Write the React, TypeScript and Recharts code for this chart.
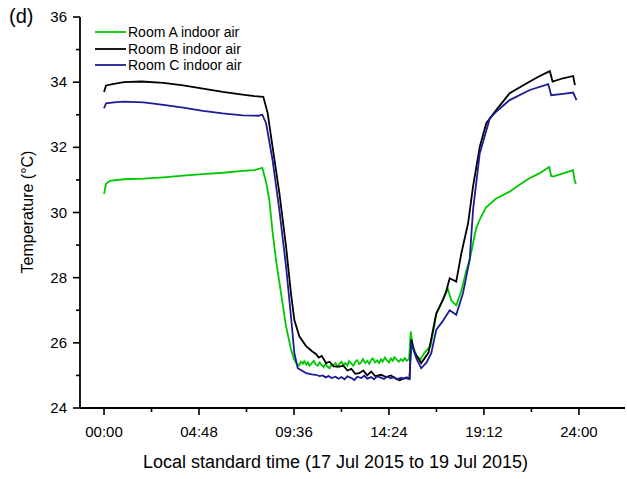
import React from 'react';
import { LineChart, Line, XAxis, YAxis, Legend } from 'recharts';

// Indoor air temperature logged in three rooms (hours since 00:00, °C)
const timesA = [
  0, 0.1, 0.3, 1, 2, 3, 4, 5, 6, 7, 7.6, 8.0, 8.2, 8.35, 8.52, 8.69, 8.95, 9.2, 9.45, 9.6, 9.75,
  9.85, 9.95, 10.05, 10.12, 10.22, 10.3, 10.38, 10.5, 10.6, 10.68, 10.8, 10.9, 10.98, 11.1, 11.2,
  11.28, 11.4, 11.5, 11.58, 11.7, 11.8, 11.88, 12.0, 12.1, 12.2, 12.3, 12.38, 12.5, 12.6, 12.7,
  12.78, 12.9, 13.0, 13.08, 13.2, 13.3, 13.4, 13.5, 13.58, 13.7, 13.8, 13.9, 14.0, 14.08, 14.2,
  14.3, 14.4, 14.5, 14.6, 14.68, 14.8, 14.9, 15.0, 15.1, 15.2, 15.3, 15.42, 15.5, 15.6, 15.8,
  16.0, 16.2, 16.5, 16.8, 17.1, 17.38, 17.55, 17.8, 18.06, 18.3, 18.5, 18.8, 19.0, 19.3, 19.8,
  20.5, 21.0, 21.5, 22.0, 22.5, 22.6, 22.7, 23.2, 23.7, 23.78, 23.85,
];
const roomA = [
  30.57, 30.88, 30.97, 31.02, 31.04, 31.08, 31.13, 31.18, 31.22, 31.28, 31.3, 31.37, 30.9, 30.4,
  29.4, 28.55, 27.5, 26.5, 25.8, 25.5, 25.35,
  25.3, 25.42, 25.36, 25.44, 25.33, 25.4, 25.3, 25.38, 25.45, 25.35, 25.3, 25.4, 25.33, 25.25,
  25.36, 25.28, 25.22, 25.34, 25.3, 25.38, 25.26, 25.34, 25.42, 25.32, 25.38, 25.3, 25.44, 25.36,
  25.3, 25.42, 25.47, 25.35, 25.4, 25.5, 25.38, 25.45, 25.36, 25.48, 25.52, 25.4, 25.46, 25.38,
  25.5, 25.42, 25.55, 25.46, 25.4, 25.52, 25.45, 25.56, 25.48, 25.42, 25.5, 25.44, 25.53, 25.45,
  25.5, 26.35, 25.9, 25.6, 25.5, 25.7, 25.9, 26.9, 27.3, 27.65, 27.3, 27.15, 27.6, 28.2, 28.6,
  29.5, 29.8, 30.15, 30.42, 30.64, 30.85, 31.05, 31.2, 31.4, 31.12, 31.1, 31.2, 31.3, 31.0, 30.88,
];

const timesB = [
  0, 0.1, 0.5, 1.0, 1.9, 3.0, 4.0, 5.0, 6.0, 7.0, 7.6, 8.05, 8.27, 8.52, 8.86, 9.2, 9.45, 9.62,
  9.87, 10.21, 10.5, 10.72, 10.85, 11.0, 11.22, 11.4, 11.6, 11.9, 12.1, 12.3, 12.5, 12.7, 12.9,
  13.1, 13.3, 13.5, 13.7, 14.0, 14.26, 14.5, 14.75, 14.94, 15.2, 15.44, 15.53, 15.7, 16.03, 16.4,
  16.79, 17.13, 17.3, 17.47, 17.8, 18.06, 18.4, 18.65, 18.99, 19.32, 19.83, 20.5, 21.52, 22.0,
  22.53, 22.67, 23.2, 23.71, 23.8,
];
const roomB = [
  33.7, 33.9, 33.95, 34.0, 34.02, 33.98, 33.9, 33.8, 33.7, 33.62, 33.57, 33.55, 33.05, 32.0, 30.6,
  28.95, 27.5, 26.7, 26.2, 25.9, 25.75, 25.65, 25.55, 25.6, 25.38, 25.42, 25.28, 25.27, 25.3,
  25.15, 25.2, 25.05, 25.07, 25.15, 25.0, 25.12, 24.98, 25.02, 24.95, 25.0, 24.9, 24.85, 24.92,
  24.9, 26.1, 25.7, 25.38, 25.7, 26.9, 27.32, 27.6, 27.98, 27.88, 28.75, 29.67, 30.8, 32.02, 32.74,
  33.15, 33.66, 34.02, 34.18, 34.34, 34.02, 34.12, 34.19, 33.91,
];

const timesC = [
  0, 0.1, 0.5, 1.0, 2.0, 3.0, 4.0, 5.0, 6.0, 7.0, 7.8, 8.0, 8.19, 8.52, 8.86, 9.2, 9.45, 9.62,
  9.79, 10.21, 10.5, 10.7, 10.9, 11.05, 11.2, 11.35, 11.5, 11.7, 11.85, 12.0, 12.15, 12.3, 12.5,
  12.65, 12.8, 13.0, 13.15, 13.3, 13.5, 13.65, 13.8, 14.0, 14.15, 14.3, 14.5, 14.65, 14.8, 15.0,
  15.15, 15.3, 15.44, 15.52, 15.8, 16.03, 16.3, 16.54, 16.79, 17.1, 17.47, 17.8, 18.14, 18.48,
  18.65, 18.99, 19.5, 19.83, 20.5, 21.52, 22.45, 22.6, 23.2, 23.71, 23.88,
];
const roomC = [
  33.2, 33.35, 33.38, 33.4, 33.38, 33.3, 33.22, 33.12, 33.04, 32.98, 32.97, 33.0, 32.74, 31.6,
  30.08, 28.34, 26.8, 25.68, 25.22, 25.07, 25.03, 25.02, 24.98, 25.0, 24.94, 24.98, 24.92, 24.96,
  24.9, 24.95, 24.88, 24.97, 24.92, 24.86, 24.96, 24.92, 24.99, 24.9, 24.95, 24.88, 24.97, 24.93,
  24.89, 24.96, 24.91, 24.95, 24.88, 24.93, 24.9, 24.94, 24.89, 26.0, 25.5, 25.22, 25.4, 25.68,
  26.4, 26.65, 27.0, 26.86, 27.52, 28.55, 30.08, 31.82, 32.89, 33.1, 33.45, 33.76, 33.94, 33.6,
  33.64, 33.68, 33.45,
];

const seriesNames = ['Room A indoor air', 'Room B indoor air', 'Room C indoor air'];
const seriesColors = ['#00c800', '#000000', '#1c1c96'];

// every 2.4 h; even entries carry a label
const timeTicks = [0, 2.4, 4.8, 7.2, 9.6, 12, 14.4, 16.8, 19.2, 21.6, 24];
const tempTicks = [24, 25, 26, 27, 28, 29, 30, 31, 32, 33, 34, 35, 36];
const timeDomain = [-1.215, 26.33];
const tempDomain = [24, 36];

const FONT = '"Liberation Sans", Arial, sans-serif';

const toRows = (ts: number[], vs: number[]) => ts.map((t, i) => ({ t, v: vs[i] }));

const fmtTime = (h: number) => {
  const mins = Math.round(h * 60);
  const hh = Math.floor(mins / 60);
  const mm = mins % 60;
  return `${String(hh).padStart(2, '0')}:${String(mm).padStart(2, '0')}`;
};

function TimeTick(props: any) {
  const { x, y, payload, index } = props;
  const major = index % 2 === 0;
  return (
    <g>
      <line x1={x} x2={x} y1={y} y2={y + (major ? 7 : 4)} stroke="#000" strokeWidth={1.6} />
      {major && (
        <text x={x} y={y + 29} textAnchor="middle" fontSize={15} fontFamily={FONT} fill="#000">
          {fmtTime(payload.value)}
        </text>
      )}
    </g>
  );
}

function TempTick(props: any) {
  const { x, y, payload } = props;
  const major = payload.value % 2 === 0;
  return (
    <g>
      <line x1={x} x2={x - (major ? 7 : 4)} y1={y} y2={y} stroke="#000" strokeWidth={1.6} />
      {major && (
        <text x={x - 13} y={y + 5} textAnchor="end" fontSize={15} fontFamily={FONT} fill="#000">
          {payload.value}
        </text>
      )}
    </g>
  );
}

function LegendBox() {
  return (
    <div style={{ fontFamily: FONT, fontSize: 14, color: '#000', lineHeight: '16.5px' }}>
      {seriesNames.map((name, i) => (
        <div key={name} style={{ display: 'flex', alignItems: 'center', height: 16.5 }}>
          <svg width={31} height={4} style={{ marginRight: 2 }}>
            <line x1={0} x2={31} y1={2} y2={2} stroke={seriesColors[i]} strokeWidth={1.8} />
          </svg>
          <span>{name}</span>
        </div>
      ))}
    </div>
  );
}

export default function App() {
  const sets = [toRows(timesA, roomA), toRows(timesB, roomB), toRows(timesC, roomC)];
  return (
    <div style={{ position: 'absolute', left: 0, top: 0, width: 627, height: 479, background: '#fff' }}>
      <div style={{ position: 'absolute', left: 9, top: 5, fontFamily: FONT, fontSize: 20 }}>(d)</div>
      <LineChart width={627} height={479} margin={{ top: 17, right: 2, bottom: 0, left: 0 }}>
        <XAxis
          dataKey="t"
          type="number"
          domain={timeDomain}
          allowDataOverflow
          ticks={timeTicks}
          interval={0}
          height={71}
          tickSize={0}
          tickMargin={0}
          tick={<TimeTick />}
          axisLine={{ stroke: '#000', strokeWidth: 1.8 }}
          label={{
            value: 'Local standard time (17 Jul 2015 to 19 Jul 2015)',
            position: 'insideBottom',
            offset: 11,
            dx: -17,
            fontSize: 18,
            fontFamily: FONT,
            fill: '#000',
          }}
        />
        <XAxis
          xAxisId="top"
          orientation="top"
          type="number"
          domain={timeDomain}
          height={0}
          tick={false}
          tickLine={false}
          axisLine={{ stroke: '#000', strokeWidth: 1.8 }}
        />
        <YAxis
          type="number"
          domain={tempDomain}
          ticks={tempTicks}
          interval={0}
          width={80}
          tickSize={0}
          tickMargin={0}
          tick={<TempTick />}
          axisLine={{ stroke: '#000', strokeWidth: 1.8 }}
          label={{
            content: () => (
              <text
                transform="translate(27,212) rotate(-90)"
                textAnchor="middle"
                dy="0.35em"
                fontSize={16}
                fontFamily={FONT}
                fill="#000"
              >
                Temperature (°C)
              </text>
            ),
          }}
        />
        <YAxis
          yAxisId="right"
          orientation="right"
          type="number"
          domain={tempDomain}
          width={0}
          tick={false}
          tickLine={false}
          axisLine={{ stroke: '#000', strokeWidth: 1.8 }}
        />
        <Legend
          layout="vertical"
          align="center"
          verticalAlign="middle"
          content={() => <LegendBox />}
          wrapperStyle={{ left: 95, top: 24, width: 180 }}
        />
        {sets.map((rows, i) => (
          <Line
            key={seriesNames[i]}
            data={rows}
            dataKey="v"
            name={seriesNames[i]}
            type="linear"
            stroke={seriesColors[i]}
            strokeWidth={1.8}
            dot={false}
            activeDot={false}
            isAnimationActive={false}
          />
        ))}
      </LineChart>
    </div>
  );
}
